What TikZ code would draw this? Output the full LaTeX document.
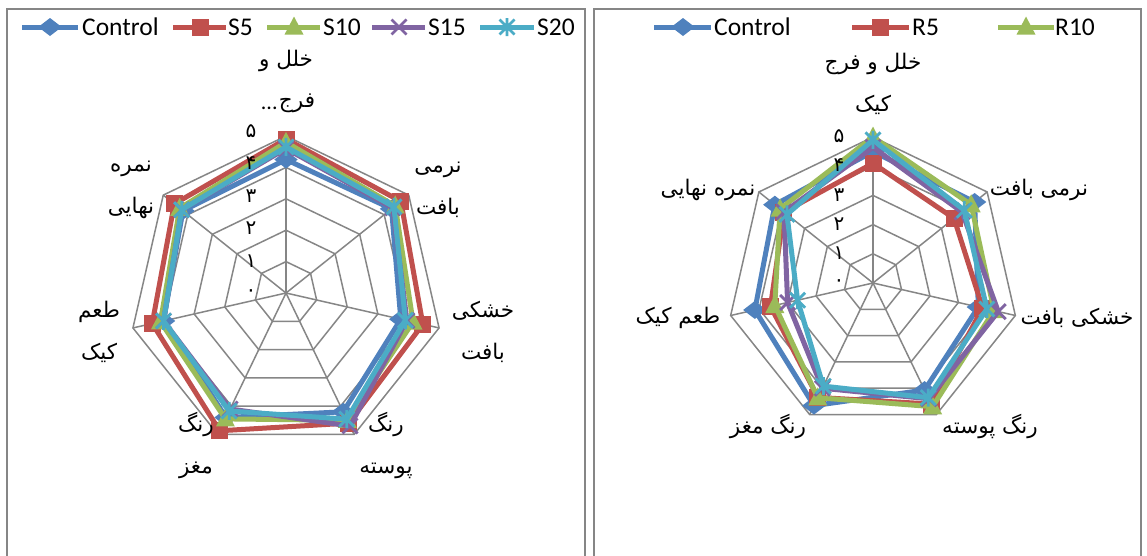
\documentclass[tikz,border=0pt]{standalone}
\usepackage{fontspec}
\setmainfont{Carlito}
\newfontfamily\arabicfont[Script=Arabic]{DejaVu Sans}
\TeXXeTstate=1
\usetikzlibrary{plotmarks}
\definecolor{cblue}{HTML}{4F81BD}
\definecolor{cred}{HTML}{C0504D}
\definecolor{cgreen}{HTML}{9BBB59}
\definecolor{cpurple}{HTML}{8064A2}
\definecolor{ccyan}{HTML}{4BACC6}
\definecolor{gridgray}{HTML}{868686}
\pgfdeclareplotmark{xldiamond}{%
  \pgfpathmoveto{\pgfqpoint{0pt}{\pgfplotmarksize}}%
  \pgfpathlineto{\pgfqpoint{1.3\pgfplotmarksize}{0pt}}%
  \pgfpathlineto{\pgfqpoint{0pt}{-\pgfplotmarksize}}%
  \pgfpathlineto{\pgfqpoint{-1.3\pgfplotmarksize}{0pt}}%
  \pgfpathclose\pgfusepathqfill}
\pgfdeclareplotmark{xlsquare}{%
  \pgfpathrectangle{\pgfqpoint{-\pgfplotmarksize}{-\pgfplotmarksize}}{\pgfqpoint{2\pgfplotmarksize}{2\pgfplotmarksize}}%
  \pgfusepathqfill}
\pgfdeclareplotmark{xltriangle}{%
  \pgfpathmoveto{\pgfqpoint{0pt}{1.1\pgfplotmarksize}}%
  \pgfpathlineto{\pgfqpoint{\pgfplotmarksize}{-0.8\pgfplotmarksize}}%
  \pgfpathlineto{\pgfqpoint{-\pgfplotmarksize}{-0.8\pgfplotmarksize}}%
  \pgfpathclose\pgfusepathqfill}
\pgfdeclareplotmark{xlcross}{%
  \pgfpathmoveto{\pgfqpoint{-\pgfplotmarksize}{-\pgfplotmarksize}}%
  \pgfpathlineto{\pgfqpoint{\pgfplotmarksize}{\pgfplotmarksize}}%
  \pgfpathmoveto{\pgfqpoint{-\pgfplotmarksize}{\pgfplotmarksize}}%
  \pgfpathlineto{\pgfqpoint{\pgfplotmarksize}{-\pgfplotmarksize}}%
  \pgfusepathqstroke}
\pgfdeclareplotmark{xlstar}{%
  \pgfpathmoveto{\pgfqpoint{-\pgfplotmarksize}{-\pgfplotmarksize}}%
  \pgfpathlineto{\pgfqpoint{\pgfplotmarksize}{\pgfplotmarksize}}%
  \pgfpathmoveto{\pgfqpoint{-\pgfplotmarksize}{\pgfplotmarksize}}%
  \pgfpathlineto{\pgfqpoint{\pgfplotmarksize}{-\pgfplotmarksize}}%
  \pgfpathmoveto{\pgfqpoint{0pt}{-1.2\pgfplotmarksize}}%
  \pgfpathlineto{\pgfqpoint{0pt}{1.2\pgfplotmarksize}}%
  \pgfusepathqstroke}
\tikzset{
  panel/.style={draw=gridgray, line width=1.3pt},
  gridline/.style={draw=gridgray, line width=1.5pt},
  serbase/.style={line width=5pt, line join=round},
  sC/.style={serbase, draw=cblue, fill=none, mark=xldiamond, mark size=9pt, mark options={fill=cblue, draw=none}},
  sA/.style={serbase, draw=cred, mark=xlsquare, mark size=8.5pt, mark options={fill=cred, draw=none}},
  sB/.style={serbase, draw=cgreen, mark=xltriangle, mark size=9.5pt, mark options={fill=cgreen, draw=none}},
  sD/.style={serbase, draw=cpurple, mark=xlcross, mark size=7.5pt, mark options={draw=cpurple, line width=2.8pt}},
  sE/.style={serbase, draw=ccyan, mark=xlstar, mark size=7.5pt, mark options={draw=ccyan, line width=2.8pt}},
  legtext/.style={font=\fontsize{25.5}{30}\selectfont, anchor=west, inner sep=0pt},
  axlabel/.style={font=\arabicfont\fontsize{21.5}{42}\selectfont, align=center, inner sep=0pt},
  dotlabel/.style={font=\fontsize{22}{26}\selectfont, inner sep=0pt},
  numlabel/.style={font=\arabicfont\fontsize{20}{22}\selectfont, inner sep=0pt}
}
\newcommand\radar[8]{\draw[#1] plot coordinates {(90:{#2*\ru}) (38.5714:{#3*\ru}) (-12.8571:{#4*\ru}) (-64.2857:{#5*\ru}) (-115.7143:{#6*\ru}) (-167.1429:{#7*\ru}) (141.4286:{#8*\ru})} -- cycle;}
\newcommand\radargrid{%
  \foreach \k in {1,...,5}{%
    \draw[gridline] (90:{\k*\ru}) -- (38.5714:{\k*\ru}) -- (-12.8571:{\k*\ru}) -- (-64.2857:{\k*\ru}) -- (-115.7143:{\k*\ru}) -- (-167.1429:{\k*\ru}) -- (141.4286:{\k*\ru}) -- cycle;}%
  \foreach \a in {90,38.5714,-12.8571,-64.2857,-115.7143,-167.1429,141.4286}{%
    \draw[gridline] (0,0) -- (\a:{5*\ru});}}
\begin{document}
\begin{tikzpicture}[x=1pt,y=1pt]
\useasboundingbox (0,0) rectangle (1147,-555);
\fill[white] (0,0) rectangle (1147,-555);
% panels
\draw[panel] (7,-570) -- (7,-9) -- (585,-9) -- (585,-570);
\draw[panel] (594,-570) -- (594,-9) -- (1141,-9) -- (1141,-570);

% ---------- left chart ----------
\begin{scope}[shift={(286,-293)}]
\def\ru{31.4}
\radargrid
\radar{sC}{4.25}{4.3}{3.75}{4.2}{4.4}{4.0}{4.2}
\radar{sA}{4.9}{4.68}{4.47}{4.6}{4.87}{4.37}{4.55}
\radar{sB}{4.8}{4.45}{4.15}{4.5}{4.45}{4.1}{4.33}
\radar{sD}{4.6}{4.35}{3.95}{4.7}{4.1}{4.0}{4.25}
\radar{sE}{4.65}{4.4}{3.9}{4.46}{4.17}{4.0}{4.25}
\end{scope}
\node[numlabel] (l5) at (251,-131) {۵};
\node[numlabel] (l4) at (251,-163) {۴};
\node[numlabel] (l3) at (251,-196) {۳};
\node[numlabel] (l2) at (251,-228) {۲};
\node[numlabel] (l1) at (251,-261) {۱};
\node[numlabel] (l0) at (251,-293) {۰};
\node[axlabel] (la0) at (286,-61) {\beginR خلل و\endR};
\node[axlabel] (la0b) at (297,-103) {\beginR فرج\endR};
\node[dotlabel, anchor=east] (la0c) at ([xshift=-1pt, yshift=-5pt]la0b.west) {...};
\node[axlabel] (la1) at (438,-190) {\beginR نرمی\endR\\\beginR بافت\endR};
\node[axlabel] (la2) at (483,-332) {\beginR خشکی\endR\\\beginR بافت\endR};
\node[axlabel] (la3) at (386,-445) {\beginR رنگ\endR\\\beginR پوسته\endR};
\node[axlabel] (la4) at (196,-445) {\beginR رنگ\endR\\\beginR مغز\endR};
\node[axlabel] (la5) at (99,-332) {\beginR طعم\endR\\\beginR کیک\endR};
\node[axlabel] (la6) at (131,-190) {\beginR نمره\endR\\\beginR نهایی\endR};
% left legend
\draw[sC] plot[mark indices={2}] coordinates {(22,-27) (50,-27) (78,-27)};
\node[legtext] (lgC) at (82,-27) {Control};
\draw[sA] plot[mark indices={2}] coordinates {(173,-27) (200,-27) (226,-27)};
\node[legtext] (lgA) at (228,-27) {S5};
\draw[sB] plot[mark indices={2}] coordinates {(267,-27) (294,-27) (320,-27)};
\node[legtext] (lgB) at (323,-27) {S10};
\draw[sD] plot[mark indices={2}] coordinates {(372,-27) (399,-27) (425,-27)};
\node[legtext] (lgD) at (428,-27) {S15};
\draw[sE] plot[mark indices={2}] coordinates {(480,-27) (507,-27) (534,-27)};
\node[legtext] (lgE) at (537,-27) {S20};

% ---------- right chart ----------
\begin{scope}[shift={(873,-283)}]
\def\ru{29.2}
\radargrid
\radar{sC}{4.5}{4.45}{3.7}{4.07}{4.66}{4.15}{4.3}
\radar{sA}{4.1}{3.55}{3.85}{4.6}{4.35}{3.6}{3.9}
\radar{sB}{5.0}{4.3}{4.25}{4.7}{4.36}{3.45}{4.07}
\radar{sD}{4.65}{3.9}{4.4}{4.4}{4.0}{3.0}{3.9}
\radar{sE}{4.9}{4.0}{4.0}{4.36}{3.92}{2.65}{3.77}
\end{scope}
\node[numlabel] (r5) at (839,-136) {۵};
\node[numlabel] (r4) at (839,-165) {۴};
\node[numlabel] (r3) at (839,-195) {۳};
\node[numlabel] (r2) at (839,-224) {۲};
\node[numlabel] (r1) at (839,-253) {۱};
\node[numlabel] (r0) at (839,-283) {۰};
\node[axlabel] (ra0) at (873,-84) {\beginR خلل و فرج\endR\\\beginR کیک\endR};
\node[axlabel] (ra1) at (1039,-190) {\beginR نرمی بافت\endR};
\node[axlabel] (ra2) at (1077,-318) {\beginR خشکی بافت\endR};
\node[axlabel] (ra3) at (990,-426) {\beginR رنگ پوسته\endR};
\node[axlabel] (ra4) at (768,-426) {\beginR رنگ مغز\endR};
\node[axlabel] (ra5) at (678,-318) {\beginR طعم کیک\endR};
\node[axlabel] (ra6) at (708,-190) {\beginR نمره نهایی\endR};
% right legend
\draw[sC] plot[mark indices={2}] coordinates {(654,-27) (683,-27) (711,-27)};
\node[legtext] (rgC) at (714,-27) {Control};
\draw[sA] plot[mark indices={2}] coordinates {(852,-27) (880,-27) (909,-27)};
\node[legtext] (rgA) at (912,-27) {R5};
\draw[sB] plot[mark indices={2}] coordinates {(998,-27) (1026,-27) (1054,-27)};
\node[legtext] (rgB) at (1055,-27) {R10};
\end{tikzpicture}
\end{document}
